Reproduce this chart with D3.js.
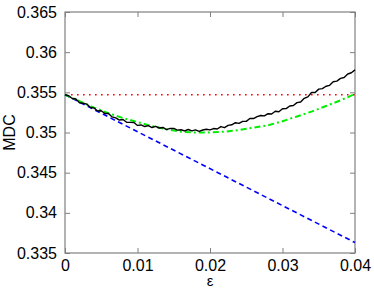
<!DOCTYPE html>
<html>
<head>
<meta charset="utf-8">
<script src="https://cdn.jsdelivr.net/npm/d3@7"></script>
<style>
  body { margin: 0; background: #fff; }
  text { font-family: "Liberation Sans", Arial, sans-serif; }
</style>
</head>
<body>
<div id="chart"></div>
<script>
// tick values and labels
const xTicks = [0, 0.01, 0.02, 0.03, 0.04];
const xTickLabels = ["0", "0.01", "0.02", "0.03", "0.04"];
const yTicks = [0.335, 0.34, 0.345, 0.35, 0.355, 0.36, 0.365];
const yTickLabels = ["0.335", "0.34", "0.345", "0.35", "0.355", "0.36", "0.365"];

// measured curve (black), epsilon step 0.0005
const epsMeasured = [
  0, 0.0005, 0.001, 0.0015, 0.002, 0.0025, 0.003, 0.0035, 0.004, 0.0045,
  0.005, 0.0055, 0.006, 0.0065, 0.007, 0.0075, 0.008, 0.0085, 0.009, 0.0095,
  0.01, 0.0105, 0.011, 0.0115, 0.012, 0.0125, 0.013, 0.0135, 0.014, 0.0145,
  0.015, 0.0155, 0.016, 0.0165, 0.017, 0.0175, 0.018, 0.0185, 0.019, 0.0195,
  0.02, 0.0205, 0.021, 0.0215, 0.022, 0.0225, 0.023, 0.0235, 0.024, 0.0245,
  0.025, 0.0255, 0.026, 0.0265, 0.027, 0.0275, 0.028, 0.0285, 0.029, 0.0295,
  0.03, 0.0305, 0.031, 0.0315, 0.032, 0.0325, 0.033, 0.0335, 0.034, 0.0345,
  0.035, 0.0355, 0.036, 0.0365, 0.037, 0.0375, 0.038, 0.0385, 0.039, 0.0395,
  0.04
];
const mdcMeasured = [
  0.35470, 0.35458, 0.35424, 0.35417, 0.35370, 0.35364, 0.35354, 0.35312, 0.35306, 0.35268,
  0.35270, 0.35236, 0.35236, 0.35194, 0.35182, 0.35155, 0.35162, 0.35127, 0.35126, 0.35124,
  0.35088, 0.35094, 0.35074, 0.35085, 0.35062, 0.35077, 0.35056, 0.35063, 0.35036, 0.35051,
  0.35050, 0.35029, 0.35034, 0.35020, 0.35037, 0.35021, 0.35033, 0.35013, 0.35031, 0.35040,
  0.35032, 0.35049, 0.35044, 0.35074, 0.35060, 0.35088, 0.35096, 0.35122, 0.35114, 0.35139,
  0.35138, 0.35175, 0.35174, 0.35198, 0.35212, 0.35207, 0.35234, 0.35230, 0.35264, 0.35259,
  0.35296, 0.35297, 0.35330, 0.35336, 0.35372, 0.35380, 0.35426, 0.35444, 0.35498, 0.35498,
  0.35540, 0.35546, 0.35576, 0.35587, 0.35632, 0.35639, 0.35674, 0.35685, 0.35728, 0.35744,
  0.35780
];

// second order approximation (green dash-dot)
const epsQuad = [0, 0.002, 0.004, 0.006, 0.008, 0.01, 0.012, 0.014, 0.016, 0.018, 0.02,
  0.022, 0.024, 0.026, 0.028, 0.03, 0.032, 0.034, 0.036, 0.038, 0.04];
const mdcQuad = [0.3547, 0.3539, 0.3531, 0.3524, 0.3518, 0.3513, 0.3508, 0.3504, 0.3501, 0.3500, 0.3500,
  0.3501, 0.3503, 0.3506, 0.3509, 0.3514, 0.3520, 0.3526, 0.3533, 0.3540, 0.3548];

// first order approximation (blue dashed)
const epsLinear = [0, 0.04];
const mdcLinear = [0.3547, 0.3363];

// unperturbed level (red dotted)
const epsBase = [0, 0.04];
const mdcBase = [0.3547, 0.3547];

const svgWidth = 374, svgHeight = 291,
  margin = { top: 12, right: 19, bottom: 38, left: 65 },
  width = svgWidth - margin.left - margin.right,
  height = svgHeight - margin.top - margin.bottom;

const svg = d3.select('#chart').append('svg')
  .attr('width', svgWidth)
  .attr('height', svgHeight);

const g = svg.append('g')
  .attr('transform', `translate(${margin.left},${margin.top})`);

const x = d3.scaleLinear().domain([0, 0.04]).range([0, width]);
const y = d3.scaleLinear().domain([0.335, 0.365]).range([height, 0]);

const axisColor = '#808080';

function styleAxis(sel) {
  sel.select('.domain').remove();
  sel.selectAll('.tick line').attr('stroke', axisColor);
  sel.selectAll('.tick text')
    .attr('fill', '#000')
    .style('font-size', '16px');
}

// bottom axis
g.append('g')
  .attr('transform', `translate(0,${height})`)
  .call(d3.axisBottom(x).tickValues(xTicks)
    .tickFormat((d, i) => xTickLabels[i]).tickSizeInner(-5).tickSizeOuter(0).tickPadding(7))
  .call(styleAxis);

// top axis (ticks only)
g.append('g')
  .call(d3.axisTop(x).tickValues(xTicks).tickFormat('').tickSizeInner(-5).tickSizeOuter(0))
  .call(styleAxis);

// left axis
g.append('g')
  .call(d3.axisLeft(y).tickValues(yTicks)
    .tickFormat((d, i) => yTickLabels[i]).tickSizeInner(-5).tickSizeOuter(0).tickPadding(8))
  .call(styleAxis);

// right axis (ticks only)
g.append('g')
  .attr('transform', `translate(${width},0)`)
  .call(d3.axisRight(y).tickValues(yTicks).tickFormat('').tickSizeInner(-5).tickSizeOuter(0))
  .call(styleAxis);

// box
g.append('rect')
  .attr('x', 0).attr('y', 0)
  .attr('width', width).attr('height', height)
  .attr('fill', 'none')
  .attr('stroke', axisColor)
  .attr('stroke-width', 1.2);

const line = d3.line()
  .x(d => x(d[0]))
  .y(d => y(d[1]));

const zip = (a, b) => a.map((v, i) => [v, b[i]]);

g.append('path')
  .attr('d', line(zip(epsBase, mdcBase)))
  .attr('fill', 'none')
  .attr('stroke', '#ff0000')
  .attr('stroke-width', 1.6)
  .attr('stroke-dasharray', '1.6,4.4');

g.append('path')
  .attr('d', line(zip(epsLinear, mdcLinear)))
  .attr('fill', 'none')
  .attr('stroke', '#0000ff')
  .attr('stroke-width', 1.6)
  .attr('stroke-dasharray', '5,3.5');

g.append('path')
  .attr('d', line(zip(epsQuad, mdcQuad)))
  .attr('fill', 'none')
  .attr('stroke', '#00ee00')
  .attr('stroke-width', 2)
  .attr('stroke-dasharray', '6,3,2,3');

g.append('path')
  .attr('d', line(zip(epsMeasured, mdcMeasured)))
  .attr('fill', 'none')
  .attr('stroke', '#000')
  .attr('stroke-width', 1.4)
  .attr('stroke-linejoin', 'round');

// axis labels
svg.append('text')
  .attr('x', margin.left + width / 2)
  .attr('y', 286)
  .attr('text-anchor', 'middle')
  .style('font-size', '15px')
  .text('ε');

svg.append('text')
  .attr('transform', `translate(15,${margin.top + height / 2}) rotate(-90)`)
  .attr('text-anchor', 'middle')
  .style('font-size', '16px')
  .text('MDC');
</script>
</body>
</html>
